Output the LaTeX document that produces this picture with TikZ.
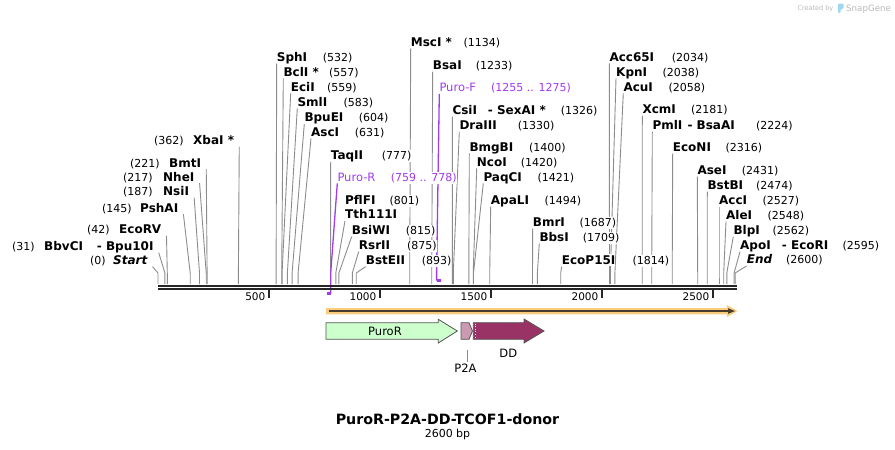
\documentclass[tikz,border=0pt]{standalone}
\usepackage{fontspec}
\setmainfont{DejaVu Sans}
\usetikzlibrary{backgrounds}
\definecolor{cutgray}{HTML}{8C8C8C}
\definecolor{primer}{HTML}{A23BEC}
\definecolor{bbone}{HTML}{262626}
\definecolor{featorange}{HTML}{FBCB7E}
\definecolor{featdark}{HTML}{4A3C2A}
\definecolor{purogreen}{HTML}{CCFFCC}
\definecolor{ptwoa}{HTML}{CC99B2}
\definecolor{ddred}{HTML}{993366}
\definecolor{featline}{HTML}{555555}
\definecolor{logogray}{HTML}{B8B8B8}
\definecolor{logoblue}{HTML}{9FD6F2}

\begin{document}
\begin{tikzpicture}[x=1pt,y=-1pt]
\tikzset{enz/.style={fill=white, inner xsep=0pt, inner ysep=2pt, text depth=0pt, anchor=base west, font=\fontsize{12}{14}\selectfont\bfseries},
  bpnum/.style={fill=white, inner xsep=0pt, inner ysep=1pt, anchor=base west, font=\fontsize{11}{13}\selectfont},
  primlab/.style={fill=white, inner xsep=0pt, inner ysep=2pt, text depth=0pt, anchor=base west, text=primer, font=\fontsize{11.5}{13}\selectfont},
  cutline/.style={draw=cutgray, line width=0.9pt},
  primline/.style={draw=primer, line width=1.3pt},
  ticklab/.style={inner sep=0pt, anchor=base east, font=\fontsize{10.5}{12}\selectfont},
  featbox/.style={draw=featline, line width=0.8pt},
  featlab/.style={inner xsep=0pt, inner ysep=2pt, anchor=base, font=\fontsize{11.5}{13}\selectfont}}
\useasboundingbox (0,0) rectangle (895,450);

\coordinate (bend) at (0,273);
\coordinate (s0) at (158.0,284);
\coordinate (s31) at (164.9,284);
\coordinate (s42) at (167.3,284);
\coordinate (s145) at (190.2,284);
\coordinate (s187) at (199.5,284);
\coordinate (s217) at (206.2,284);
\coordinate (s221) at (207.1,284);
\coordinate (s362) at (238.4,284);
\coordinate (s532) at (276.1,284);
\coordinate (s557) at (281.7,284);
\coordinate (s559) at (282.1,284);
\coordinate (s583) at (287.4,284);
\coordinate (s604) at (292.1,284);
\coordinate (s631) at (298.1,284);
\coordinate (s777) at (330.5,284);
\coordinate (s778) at (330.7,284);
\coordinate (s801) at (335.8,284);
\coordinate (s815) at (338.9,284);
\coordinate (s875) at (352.3,284);
\coordinate (s893) at (356.2,284);
\coordinate (s1134) at (409.7,284);
\coordinate (s1233) at (431.7,284);
\coordinate (s1255) at (436.6,284);
\coordinate (s1326) at (452.4,284);
\coordinate (s1330) at (453.3,284);
\coordinate (s1400) at (468.8,284);
\coordinate (s1420) at (473.2,284);
\coordinate (s1421) at (473.5,284);
\coordinate (s1494) at (489.7,284);
\coordinate (s1687) at (532.5,284);
\coordinate (s1709) at (537.4,284);
\coordinate (s1814) at (560.7,284);
\coordinate (s2034) at (609.5,284);
\coordinate (s2038) at (610.4,284);
\coordinate (s2058) at (614.9,284);
\coordinate (s2181) at (642.2,284);
\coordinate (s2224) at (651.7,284);
\coordinate (s2316) at (672.2,284);
\coordinate (s2431) at (697.7,284);
\coordinate (s2474) at (707.2,284);
\coordinate (s2527) at (719.0,284);
\coordinate (s2548) at (723.7,284);
\coordinate (s2562) at (726.8,284);
\coordinate (s2595) at (734.1,284);
\coordinate (s2600) at (735.2,284);
\coordinate (rfoot) at (326.5,293.5);
\coordinate (ffoot) at (441.1,280.5);

% sites left of the cut lines
\node[bpnum] (pXbaI) at (154,144.4) {(362)};
\node[enz] (XbaI) at (193,144.4) {XbaI *};
\node[bpnum] (pBmtI) at (130,167) {(221)};
\node[enz] (BmtI) at (169,167) {BmtI};
\node[bpnum] (pNheI) at (123,181) {(217)};
\node[enz] (NheI) at (163,181) {NheI};
\node[bpnum] (pNsiI) at (123,195.4) {(187)};
\node[enz] (NsiI) at (163,195.4) {NsiI};
\node[bpnum] (pPshAI) at (102,212) {(145)};
\node[enz] (PshAI) at (140,212) {PshAI};
\node[bpnum] (pEcoRV) at (87,233.4) {(42)};
\node[enz] (EcoRV) at (119,233.4) {EcoRV};
\node[bpnum] (pBbvCI) at (12,250.4) {(31)};
\node[enz] (BbvCI) at (44,250.4) {BbvCI};
\node[enz] (Bpu10I) at (96.7,250.4) {- Bpu10I};
\node[bpnum] (pStart) at (90,264.4) {(0)};
\node[enz, font=\fontsize{12}{14}\selectfont\bfseries\itshape] (Start) at (113,264.4) {Start};

% sites right of the cut lines
\node[enz] (SphI) at (276.7,61.1) {SphI};
\node[bpnum] (pSphI) at (322.7,61.1) {(532)};
\node[enz] (BclI) at (283.3,76.1) {BclI *};
\node[bpnum] (pBclI) at (329,76.1) {(557)};
\node[enz] (EciI) at (290.7,91.1) {EciI};
\node[bpnum] (pEciI) at (327,91.1) {(559)};
\node[enz] (SmlI) at (297.3,106.1) {SmlI};
\node[bpnum] (pSmlI) at (343.3,106.1) {(583)};
\node[enz] (BpuEI) at (304.3,121.7) {BpuEI};
\node[bpnum] (pBpuEI) at (358.7,121.7) {(604)};
\node[enz] (AscI) at (311,136.1) {AscI};
\node[bpnum] (pAscI) at (354.7,136.1) {(631)};
\node[enz] (TaqII) at (330.7,159.4) {TaqII};
\node[bpnum] (pTaqII) at (381.7,159.4) {(777)};
\node[primlab] (primR) at (337.3,181.1) {Puro-R};
\node[bpnum, text=primer] (pprimR) at (390.7,181.1) {(759 .. 778)};
\node[enz] (PflFI) at (345,204.4) {PflFI};
\node[bpnum] (pPflFI) at (389.3,204.4) {(801)};
\node[enz] (Tth111I) at (345,218.7) {Tth111I};
\node[enz] (BsiWI) at (351.7,234.4) {BsiWI};
\node[bpnum] (pBsiWI) at (405.7,234.4) {(815)};
\node[enz] (RsrII) at (358.7,249.4) {RsrII};
\node[bpnum] (pRsrII) at (407,249.4) {(875)};
\node[enz] (BstEII) at (365.7,264.4) {BstEII};
\node[bpnum] (pBstEII) at (421.7,264.4) {(893)};
\node[enz] (MscI) at (410.7,46.1) {MscI *};
\node[bpnum] (pMscI) at (463.3,46.1) {(1134)};
\node[enz] (BsaI) at (432.7,69.4) {BsaI};
\node[bpnum] (pBsaI) at (475.7,69.4) {(1233)};
\node[primlab] (primF) at (439.3,91.7) {Puro-F};
\node[bpnum, text=primer] (pprimF) at (491,91.7) {(1255 .. 1275)};
\node[enz] (CsiI) at (452.3,114.4) {CsiI};
\node[enz] (SexAI) at (487.7,114.4) {- SexAI *};
\node[bpnum] (pCsiI) at (560.7,114.4) {(1326)};
\node[enz] (DraIII) at (459.3,129.4) {DraIII};
\node[bpnum] (pDraIII) at (517.7,129.4) {(1330)};
\node[enz] (BmgBI) at (469.3,151.1) {BmgBI};
\node[bpnum] (pBmgBI) at (529,151.1) {(1400)};
\node[enz] (NcoI) at (476.7,166.1) {NcoI};
\node[bpnum] (pNcoI) at (520.7,166.1) {(1420)};
\node[enz] (PaqCI) at (483.3,181.1) {PaqCI};
\node[bpnum] (pPaqCI) at (537.3,181.1) {(1421)};
\node[enz] (ApaLI) at (490.7,204.4) {ApaLI};
\node[bpnum] (pApaLI) at (544.3,204.4) {(1494)};
\node[enz] (BmrI) at (532.7,226.1) {BmrI};
\node[bpnum] (pBmrI) at (579.3,226.1) {(1687)};
\node[enz] (BbsI) at (539.3,241.1) {BbsI};
\node[bpnum] (pBbsI) at (582.7,241.1) {(1709)};
\node[enz] (EcoP15I) at (561.7,264.4) {EcoP15I};
\node[bpnum] (pEcoP15I) at (632.3,264.4) {(1814)};
\node[enz] (Acc65I) at (609.3,61.1) {Acc65I};
\node[bpnum] (pAcc65I) at (671.7,61.1) {(2034)};
\node[enz] (KpnI) at (616,76.1) {KpnI};
\node[bpnum] (pKpnI) at (662.3,76.1) {(2038)};
\node[enz] (AcuI) at (623.3,91.1) {AcuI};
\node[bpnum] (pAcuI) at (668.3,91.1) {(2058)};
\node[enz] (XcmI) at (642.3,113.7) {XcmI};
\node[bpnum] (pXcmI) at (691,113.7) {(2181)};
\node[enz] (PmlI) at (652.3,129.4) {PmlI};
\node[enz] (BsaAI) at (687.3,129.4) {- BsaAI};
\node[bpnum] (pPmlI) at (756,129.4) {(2224)};
\node[enz] (EcoNI) at (672.7,151.1) {EcoNI};
\node[bpnum] (pEcoNI) at (725.3,151.1) {(2316)};
\node[enz] (AseI) at (697.3,174.4) {AseI};
\node[bpnum] (pAseI) at (741.7,174.4) {(2431)};
\node[enz] (BstBI) at (707.3,189.4) {BstBI};
\node[bpnum] (pBstBI) at (756,189.4) {(2474)};
\node[enz] (AccI) at (719,204.4) {AccI};
\node[bpnum] (pAccI) at (762.3,204.4) {(2527)};
\node[enz] (AleI) at (726,219.4) {AleI};
\node[bpnum] (pAleI) at (767.3,219.4) {(2548)};
\node[enz] (BlpI) at (733.3,234.4) {BlpI};
\node[bpnum] (pBlpI) at (772.3,234.4) {(2562)};
\node[enz] (ApoI) at (740,249.4) {ApoI};
\node[enz] (EcoRI) at (781.7,249.4) {- EcoRI};
\node[bpnum] (pApoI) at (842.3,249.4) {(2595)};
\node[enz, font=\fontsize{12}{14}\selectfont\bfseries\itshape] (End) at (746.7,263.7) {End};
\node[bpnum] (pEnd) at (786,263.7) {(2600)};

\begin{scope}[on background layer]
\draw[cutline] ([xshift=5pt]XbaI.south east) -- (s362 |- bend) -- (s362);
\draw[cutline] ([xshift=5pt]BmtI.south east) -- (s221 |- bend) -- (s221);
\draw[cutline] ([xshift=5pt]NheI.south east) -- (s217 |- bend) -- (s217);
\draw[cutline] ([xshift=5pt]NsiI.south east) -- (s187 |- bend) -- (s187);
\draw[cutline] ([xshift=5pt]PshAI.south east) -- (s145 |- bend) -- (s145);
\draw[cutline] ([xshift=5pt]EcoRV.south east) -- (s42 |- bend) -- (s42);
\draw[cutline] ([xshift=5pt]Bpu10I.south east) -- (s31 |- bend) -- (s31);
\draw[cutline] ([xshift=5pt]Start.south east) -- (s0 |- bend) -- (s0);
\draw[cutline] (SphI.south west) -- (s532 |- bend) -- (s532);
\draw[cutline] (BclI.south west) -- (s557 |- bend) -- (s557);
\draw[cutline] (EciI.south west) -- (s559 |- bend) -- (s559);
\draw[cutline] (SmlI.south west) -- (s583 |- bend) -- (s583);
\draw[cutline] (BpuEI.south west) -- (s604 |- bend) -- (s604);
\draw[cutline] (AscI.south west) -- (s631 |- bend) -- (s631);
\draw[cutline] (TaqII.south west) -- (s777 |- bend) -- (s777);
\draw[cutline] (Tth111I.south west) -- (s801 |- bend) -- (s801);
\draw[cutline] (BsiWI.south west) -- (s815 |- bend) -- (s815);
\draw[cutline] (RsrII.south west) -- (s875 |- bend) -- (s875);
\draw[cutline] (BstEII.south west) -- (s893 |- bend) -- (s893);
\draw[cutline] (MscI.south west) -- (s1134 |- bend) -- (s1134);
\draw[cutline] (BsaI.south west) -- (s1233 |- bend) -- (s1233);
\draw[cutline] (CsiI.south west) -- (s1326 |- bend) -- (s1326);
\draw[cutline] (DraIII.south west) -- (s1330 |- bend) -- (s1330);
\draw[cutline] (BmgBI.south west) -- (s1400 |- bend) -- (s1400);
\draw[cutline] (NcoI.south west) -- (s1420 |- bend) -- (s1420);
\draw[cutline] (PaqCI.south west) -- (s1421 |- bend) -- (s1421);
\draw[cutline] (ApaLI.south west) -- (s1494 |- bend) -- (s1494);
\draw[cutline] (BmrI.south west) -- (s1687 |- bend) -- (s1687);
\draw[cutline] (BbsI.south west) -- (s1709 |- bend) -- (s1709);
\draw[cutline] (EcoP15I.south west) -- (s1814 |- bend) -- (s1814);
\draw[cutline] (Acc65I.south west) -- (s2034 |- bend) -- (s2034);
\draw[cutline] (KpnI.south west) -- (s2038 |- bend) -- (s2038);
\draw[cutline] (AcuI.south west) -- (s2058 |- bend) -- (s2058);
\draw[cutline] (XcmI.south west) -- (s2181 |- bend) -- (s2181);
\draw[cutline] (PmlI.south west) -- (s2224 |- bend) -- (s2224);
\draw[cutline] (EcoNI.south west) -- (s2316 |- bend) -- (s2316);
\draw[cutline] (AseI.south west) -- (s2431 |- bend) -- (s2431);
\draw[cutline] (BstBI.south west) -- (s2474 |- bend) -- (s2474);
\draw[cutline] (AccI.south west) -- (s2527 |- bend) -- (s2527);
\draw[cutline] (AleI.south west) -- (s2548 |- bend) -- (s2548);
\draw[cutline] (BlpI.south west) -- (s2562 |- bend) -- (s2562);
\draw[cutline] (ApoI.south west) -- (s2595 |- bend) -- (s2595);
\draw[cutline] (End.south west) -- (s2600 |- bend) -- (s2600);
% primers
\draw[primline] (primR.south west) -- (s778 |- bend) -- (s778 |- rfoot);
\draw[primer, line width=2.2pt] (s778 |- rfoot) -- (rfoot);
\draw[primline] (primF.south west) -- (s1255 |- bend) -- (s1255 |- ffoot);
\draw[primer, line width=2.2pt] (s1255 |- ffoot) -- (ffoot);
\end{scope}

% backbone and ruler
\draw[bbone, line width=2pt] (158,285.6) -- (736.6,285.6);
\draw[bbone, line width=2pt] (158,289.4) -- (736.6,289.4);
\draw[bbone, line width=1.6pt] (269,290) -- (269,297.5);
\draw[bbone, line width=1.6pt] (380,290) -- (380,297.5);
\draw[bbone, line width=1.6pt] (491,290) -- (491,297.5);
\draw[bbone, line width=1.6pt] (602,290) -- (602,297.5);
\draw[bbone, line width=1.6pt] (713,290) -- (713,297.5);
\node[ticklab] (t500) at (265.5,300.5) {500};
\node[ticklab] (t1000) at (376.5,300.5) {1000};
\node[ticklab] (t1500) at (487.5,300.5) {1500};
\node[ticklab] (t2000) at (598.5,300.5) {2000};
\node[ticklab] (t2500) at (709.5,300.5) {2500};

% features
\fill[featorange] (326,308) -- (727,308) -- (727,305) -- (737.5,311) -- (727,317) -- (727,314.3) -- (326,314.3) -- cycle;
\draw[featdark, line width=1.3pt] (328.5,311) -- (729,311);
\fill[featdark] (728,308.2) -- (735,311) -- (728,313.8) -- cycle;
\draw[featbox, fill=purogreen] (326,322.7) -- (438.3,322.7) -- (438.3,319.3) -- (457.3,331) -- (438.3,343) -- (438.3,339.3) -- (326,339.3) -- cycle;
\draw[featbox, fill=ptwoa] (461,322.7) -- (469,322.7) -- (472.5,331) -- (469,339.3) -- (461,339.3) -- cycle;
\draw[featbox, fill=ddred] (473.3,322.7) -- (524,322.7) -- (524,319) -- (544,331) -- (524,343) -- (524,339.3) -- (473.3,339.3) -- cycle;
\draw[white, dotted, line width=0.6pt] (475.3,323.6) -- (475.3,338.4);
\node[featlab] (fPuroR) at (385,335.2) {PuroR};
\node[featlab] (fDD) at (508.3,357) {DD};
\node[featlab] (fP2A) at (465.5,372.5) {P2A};
\coordinate (p2atop) at (467.3,350);
\draw[cutline, line width=0.8pt] (p2atop) -- (p2atop |- fP2A.north);

% title
\node[inner sep=0pt, anchor=base, font=\fontsize{14.2}{16}\selectfont\bfseries] (title) at (447.5,424.2) {PuroR-P2A-DD-TCOF1-donor};
\node[inner sep=0pt, anchor=base, font=\fontsize{11}{13}\selectfont] (size) at (447.5,437.3) {2600 bp};

% logo
\node[inner sep=0pt, anchor=base west, text=logogray, font=\fontsize{6.5}{8}\selectfont] (made) at (797.3,10.3) {Created by};
\fill[logoblue, rounded corners=1pt] (838,3.5) -- (843.5,3.5) -- (843.5,8.5) -- (840.5,9.5) -- (840.5,13) -- (838,13) -- cycle;
\node[inner sep=0pt, anchor=base west, text=logogray, font=\fontsize{8.7}{10}\selectfont] (snapgene) at (846,11.2) {SnapGene};
\end{tikzpicture}
\end{document}
